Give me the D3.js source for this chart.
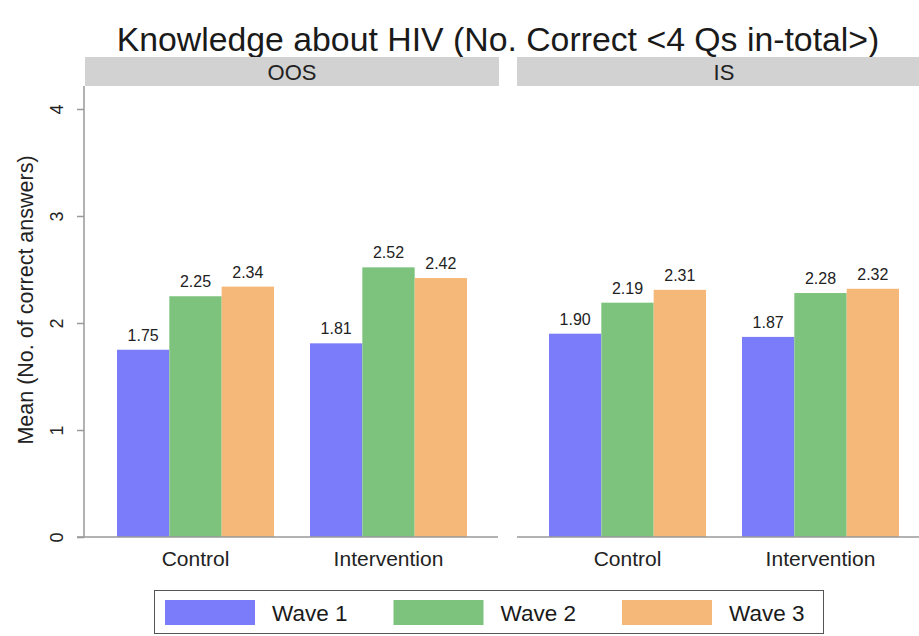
<!DOCTYPE html>
<html>
<head>
<meta charset="utf-8">
<script src="https://cdn.jsdelivr.net/npm/d3@7"></script>
<style>
  html, body { margin: 0; padding: 0; background: #fff; }
  svg { display: block; font-family: "Liberation Sans", Arial, Helvetica, sans-serif; }
</style>
</head>
<body>
<svg id="chart" width="919" height="636"></svg>
<script>
// ---- data ----
const titleText = "Knowledge about HIV (No. Correct <4 Qs in-total>)";
const yTitle = "Mean (No. of correct answers)";
const panels = ["OOS", "IS"];
const groups = ["Control", "Intervention"];
const waves = ["Wave 1", "Wave 2", "Wave 3"];
const oosControl = [1.75, 2.25, 2.34];
const oosIntervention = [1.81, 2.52, 2.42];
const isControl = [1.90, 2.19, 2.31];
const isIntervention = [1.87, 2.28, 2.32];
const yTicks = [0, 1, 2, 3, 4];
const waveColors = ["#7b7cfa", "#7dc37d", "#f5b878"];

const panelValues = {
  OOS: { Control: oosControl, Intervention: oosIntervention },
  IS: { Control: isControl, Intervention: isIntervention }
};

// ---- layout ----
const svg = d3.select("#chart");
const plotTop = 86, plotBottom = 537;
const panelW = 414;
const panelLefts = { OOS: 85, IS: 517 };
const stripTop = 57, stripH = 29;

const y = d3.scaleLinear().domain([0, 4]).range([537, 109]);
const color = d3.scaleOrdinal().domain(waves).range(waveColors);
const fmt = d3.format(".2f");

// title
svg.append("text")
  .attr("x", 498).attr("y", 51)
  .attr("text-anchor", "middle")
  .attr("font-size", 33.8)
  .attr("fill", "#1a1a1a")
  .text(titleText);

// y axis title
svg.append("text")
  .attr("transform", "translate(33,300) rotate(-90)")
  .attr("text-anchor", "middle")
  .attr("font-size", 21.5)
  .attr("fill", "#222")
  .text(yTitle);

// y axis (left panel only)
const yAxis = d3.axisLeft(y).tickValues(yTicks).tickSize(7).tickPadding(8).tickFormat(d3.format("d"));
const yg = svg.append("g").attr("transform", "translate(84,0)").call(yAxis);
yg.select(".domain").remove();
yg.selectAll(".tick line").attr("stroke", "#999").attr("stroke-width", 1.5);
yg.selectAll(".tick text")
  .attr("font-size", 18)
  .attr("fill", "#222")
  .attr("font-family", "Liberation Sans, Arial, sans-serif")
  .attr("text-anchor", "middle")
  .attr("x", null).attr("dy", null)
  .attr("transform", "translate(-26,0) rotate(-90)")
  .attr("dominant-baseline", "middle");
svg.append("line")
  .attr("x1", 84).attr("x2", 84).attr("y1", plotTop).attr("y2", plotBottom)
  .attr("stroke", "#999").attr("stroke-width", 1.5);

panels.forEach(p => {
  const left = panelLefts[p];
  const x0 = d3.scaleBand().domain(groups).range([left, left + panelW])
    .paddingInner(0.1865).paddingOuter(0.1658);
  const x1 = d3.scaleBand().domain(waves).range([0, x0.bandwidth()]).padding(0);

  // strip
  svg.append("rect")
    .attr("x", left).attr("y", stripTop)
    .attr("width", panelW).attr("height", stripH)
    .attr("fill", "#d2d2d2");
  svg.append("text")
    .attr("x", left + panelW / 2).attr("y", stripTop + stripH / 2 + 8)
    .attr("text-anchor", "middle")
    .attr("font-size", 22)
    .attr("fill", "#222")
    .text(p);

  const g = svg.append("g");
  groups.forEach(grp => {
    const vals = panelValues[p][grp];
    const gg = g.append("g").attr("transform", `translate(${x0(grp)},0)`);
    gg.selectAll("rect").data(vals).join("rect")
      .attr("x", (d, i) => x1(waves[i]))
      .attr("y", d => y(d))
      .attr("width", x1.bandwidth())
      .attr("height", d => y(0) - y(d))
      .attr("fill", (d, i) => color(waves[i]));
    gg.selectAll("text").data(vals).join("text")
      .attr("x", (d, i) => x1(waves[i]) + x1.bandwidth() / 2)
      .attr("y", d => y(d) - 9)
      .attr("text-anchor", "middle")
      .attr("font-size", 16)
      .attr("fill", "#222")
      .text(d => fmt(d));
  });

  // x axis
  const xAxis = d3.axisBottom(x0).tickSize(0).tickPadding(14);
  const xg = svg.append("g").attr("transform", `translate(0,${plotBottom})`).call(xAxis);
  xg.select(".domain").remove();
  xg.selectAll(".tick text")
    .attr("font-size", 21)
    .attr("fill", "#222")
    .attr("font-family", "Liberation Sans, Arial, sans-serif");
  svg.append("line")
    .attr("x1", p === "OOS" ? 77 : left).attr("x2", left + panelW - (p === "OOS" ? 1 : 0))
    .attr("y1", plotBottom).attr("y2", plotBottom)
    .attr("stroke", "#999").attr("stroke-width", 1.5);
});

// legend
const legend = svg.append("g");
legend.append("rect")
  .attr("x", 154.5).attr("y", 590.5).attr("width", 669).attr("height", 43)
  .attr("fill", "#fff").attr("stroke", "#555").attr("stroke-width", 1);
const legX = d3.scalePoint().domain(waves).range([165, 622]);
waves.forEach(w => {
  legend.append("rect")
    .attr("x", legX(w)).attr("y", 600).attr("width", 90).attr("height", 25)
    .attr("fill", color(w));
  legend.append("text")
    .attr("x", legX(w) + 107).attr("y", 621)
    .attr("font-size", 22.5)
    .attr("fill", "#1a1a1a")
    .text(w);
});
</script>
</body>
</html>
